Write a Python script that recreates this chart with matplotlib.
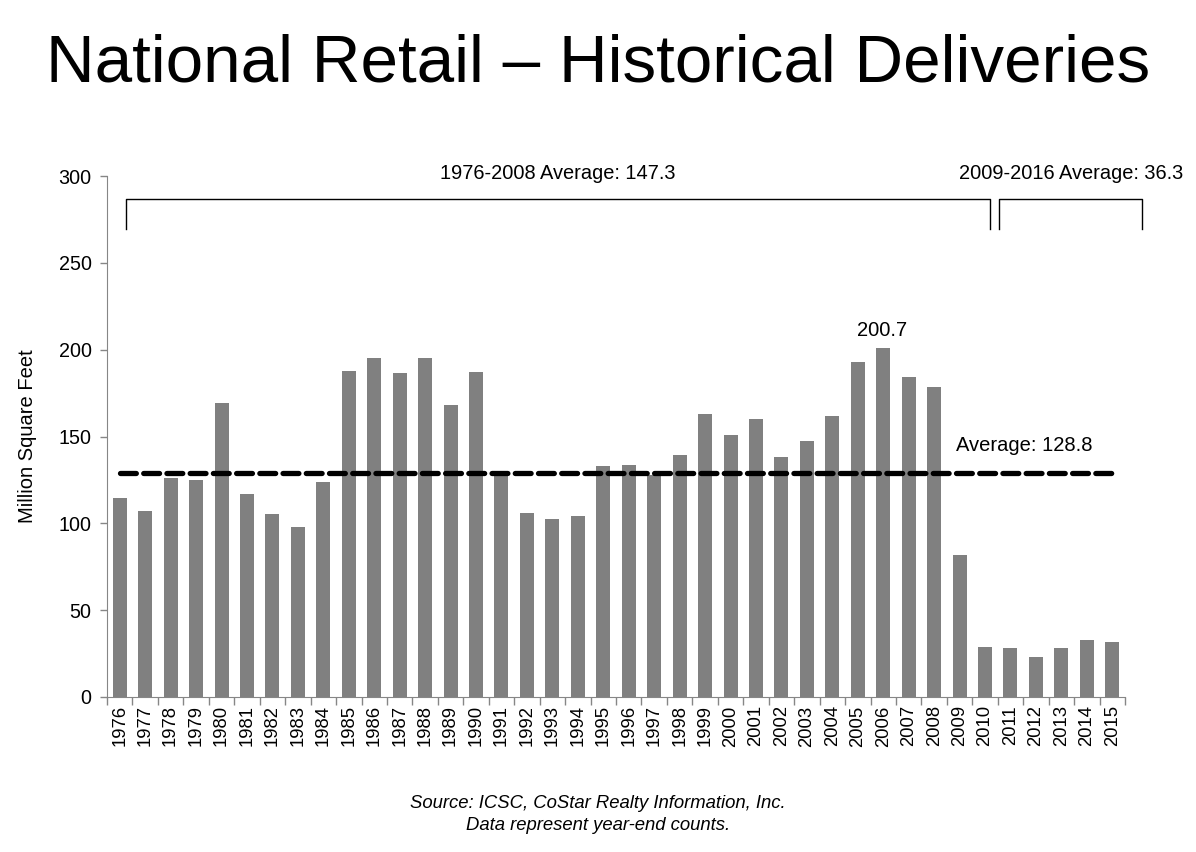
import matplotlib
matplotlib.use("Agg")
import matplotlib.pyplot as plt
import numpy as np

years = [str(y) for y in range(1976, 2016)]
deliveries = [114.3, 107.3, 126.3, 125.2, 169.4, 116.8, 105.1, 98.1, 124.0, 187.9,
              195.4, 186.5, 195.1, 168.0, 187.3, 127.9, 105.7, 102.4, 104.0, 133.0,
              133.5, 127.9, 139.6, 162.9, 151.1, 160.2, 138.4, 147.4, 162.0, 193.1,
              200.7, 184.2, 178.3, 81.8, 29.0, 28.0, 23.0, 28.0, 33.1, 31.7]
overall_avg = 128.8
y_ticks = [0, 50, 100, 150, 200, 250, 300]

plt.rcParams['font.family'] = ['Liberation Sans', 'DejaVu Sans']

fig = plt.figure(figsize=(11.96, 8.52), dpi=100)
ax = fig.add_axes([107/1196, 1-697/852, (1125-107)/1196, (697-176)/852])

x = np.arange(len(years))
ax.bar(x, deliveries, width=0.55, color='#808080', zorder=2)
ax.set_xlim(-0.5, len(years)-0.5)
ax.set_ylim(0, 300)
ax.set_yticks(y_ticks)
ax.set_yticklabels([str(v) for v in y_ticks], fontsize=14.2)
ax.set_xticks(x)
ax.set_xticklabels(years, rotation=90, fontsize=13.3)
ax.tick_params(axis='x', length=0, pad=6)
ax.set_xticks(np.arange(-0.5, len(years)), minor=True)
ax.tick_params(axis='x', which='minor', length=6, color='#868686', width=1)
ax.tick_params(axis='y', length=5, color='#868686', width=1, pad=6)
for s in ['top', 'right']:
    ax.spines[s].set_visible(False)
for s in ['left', 'bottom']:
    ax.spines[s].set_color('#868686')
ax.set_ylabel('Million Square Feet', fontsize=14.5)
ax.yaxis.set_label_coords(-0.0683, 0.5)

# average line
ax.plot([x[0], x[-1]], [overall_avg, overall_avg], color='black', lw=3.8,
        dashes=(3.0, 1.4), zorder=3, dash_capstyle='round')
ax.text(35.53, 145.1, 'Average: 128.8', ha='center', va='center', fontsize=14.5)
ax.text(29.95, 211.3, '200.7', ha='center', va='center', fontsize=14.5)

# brackets
def bracket(x0, x1, ytop, ybot):
    ax.plot([x0, x0, x1, x1], [ybot, ytop, ytop, ybot], color='black', lw=1.0,
            clip_on=False, zorder=4)
bracket(0.25, 34.2, 286.8, 269.5)
bracket(34.55, 40.15, 286.8, 269.5)
ax.text(17.22, 301.7, '1976-2008 Average: 147.3', ha='center', va='center',
        fontsize=14.4, clip_on=False)
ax.text(37.38, 301.7, '2009-2016 Average: 36.3', ha='center', va='center',
        fontsize=14.4, clip_on=False)

fig.text(0.5, 1-64/852, 'National Retail \u2013 Historical Deliveries', ha='center',
         va='center', fontsize=48.5)
fig.text(0.5, 1-803/852, 'Source: ICSC, CoStar Realty Information, Inc.', ha='center',
         va='center', fontsize=13.3, style='italic')
fig.text(0.5, 1-825/852, 'Data represent year-end counts.', ha='center',
         va='center', fontsize=13.3, style='italic')

fig.savefig('out.png', dpi=100)
